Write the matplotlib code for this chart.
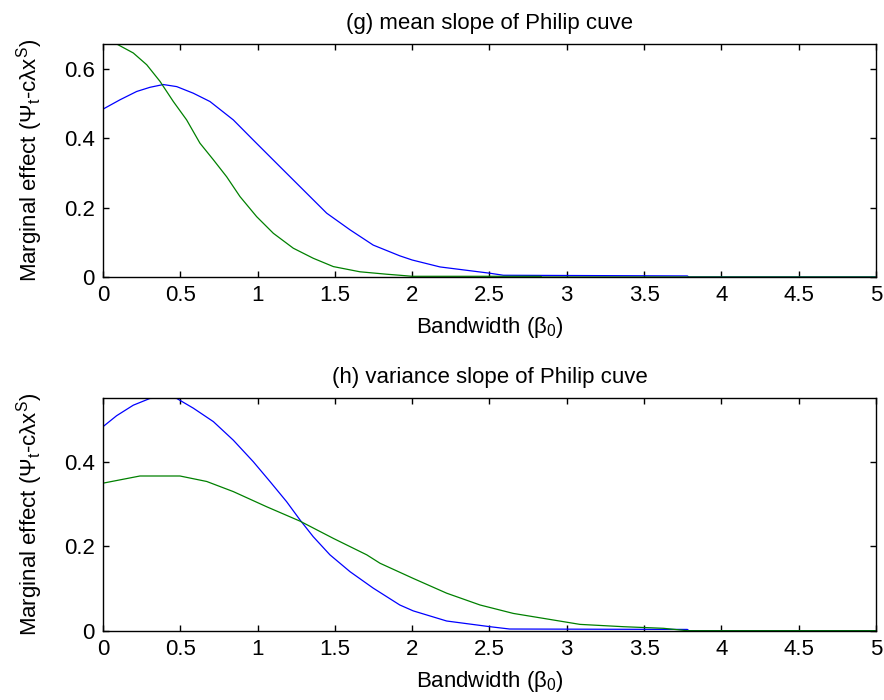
import matplotlib
matplotlib.use("Agg")
import matplotlib.pyplot as plt
from matplotlib.ticker import FormatStrFormatter

plt.rcParams['font.family'] = ['Liberation Sans', 'DejaVu Sans']
plt.rcParams['mathtext.fontset'] = 'custom'
plt.rcParams['mathtext.rm'] = 'Liberation Sans'
plt.rcParams['mathtext.it'] = 'Liberation Sans'

# (g) mean slope
g_blue_x = [0, 0.11, 0.218, 0.304, 0.39, 0.477, 0.584, 0.692, 0.843, 0.972, 1.145, 1.296,
            1.447, 1.598, 1.748, 1.92, 2.0, 2.18, 2.5, 2.59, 3.78, 3.79, 5.0]
g_blue_y = [0.484, 0.511, 0.535, 0.547, 0.555, 0.549, 0.530, 0.506, 0.453, 0.395, 0.318,
            0.251, 0.184, 0.136, 0.092, 0.061, 0.049, 0.029, 0.011, 0.005, 0.003, 0.0, 0.0]
g_green_x = [0, 0.088, 0.196, 0.283, 0.369, 0.455, 0.541, 0.627, 0.714, 0.80, 0.886,
             0.994, 1.102, 1.231, 1.36, 1.49, 1.662, 1.835, 1.92, 2.0, 2.83, 2.84, 5.0]
g_green_y = [0.672, 0.672, 0.646, 0.612, 0.564, 0.506, 0.453, 0.386, 0.338, 0.289, 0.232,
             0.174, 0.126, 0.083, 0.054, 0.030, 0.015, 0.008, 0.005, 0.002, 0.002, 0.0, 0.0]

# (h) variance slope
h_blue_x = [0, 0.088, 0.196, 0.304, 0.41, 0.477, 0.584, 0.714, 0.843, 0.972, 1.08, 1.188,
            1.274, 1.36, 1.468, 1.598, 1.748, 1.92, 2.007, 2.223, 2.503, 2.63, 3.78, 3.79, 5.0]
h_blue_y = [0.484, 0.51, 0.535, 0.551, 0.552, 0.551, 0.528, 0.496, 0.452, 0.401, 0.354,
            0.306, 0.263, 0.223, 0.180, 0.140, 0.101, 0.061, 0.047, 0.023, 0.0095, 0.004,
            0.003, 0.0, 0.0]
h_green_x = [0, 0.239, 0.498, 0.671, 0.843, 1.059, 1.274, 1.49, 1.706, 1.792, 2.007,
             2.223, 2.439, 2.654, 2.87, 3.085, 3.366, 3.625, 3.78, 5.0]
h_green_y = [0.35, 0.367, 0.367, 0.354, 0.330, 0.294, 0.260, 0.219, 0.180, 0.160, 0.124,
             0.089, 0.061, 0.041, 0.028, 0.015, 0.0095, 0.0057, 0.0, 0.0]

titles = ['(g) mean slope of Philip cuve', '(h) variance slope of Philip cuve']
ylabel = r'Marginal effect ($\mathregular{\Psi_t}$-c$\mathregular{\lambda}$x$^\mathregular{S}$)'
xlabel = r'Bandwidth ($\mathregular{\beta_0}$)'

fig = plt.figure(figsize=(8.84, 7.0), dpi=100)
ax1 = fig.add_axes([0.1165, 0.6043, 0.8744, 0.3329])
ax2 = fig.add_axes([0.1165, 0.0990, 0.8744, 0.3324])

panels = [
    (ax1, g_blue_x, g_blue_y, g_green_x, g_green_y, 0.672, [0, 0.2, 0.4, 0.6]),
    (ax2, h_blue_x, h_blue_y, h_green_x, h_green_y, 0.552, [0, 0.2, 0.4]),
]

fs = 16
for i, (ax, bx, by, gx, gy, ytop, yt) in enumerate(panels):
    ax.plot(bx, by, color='#0000ff', lw=0.9)
    ax.plot(gx, gy, color='#008000', lw=0.9)
    ax.set_xlim(0, 5)
    ax.set_ylim(0, ytop)
    ax.set_xticks([0, 0.5, 1, 1.5, 2, 2.5, 3, 3.5, 4, 4.5, 5])
    ax.set_yticks(yt)
    ax.xaxis.set_major_formatter(FormatStrFormatter('%g'))
    ax.yaxis.set_major_formatter(FormatStrFormatter('%g'))
    ax.tick_params(direction='in', top=True, right=True, length=4, width=1,
                   labelsize=fs, pad=6)
    for s in ax.spines.values():
        s.set_linewidth(1.0)
    ax.set_title(titles[i], fontsize=fs, pad=11)
    ax.set_xlabel(xlabel, fontsize=fs)
    ax.xaxis.set_label_coords(0.5, -0.165)
    ax.set_ylabel(ylabel, fontsize=fs)
    ax.yaxis.set_label_coords(-0.075, 0.5)

fig.savefig('out.png', dpi=100)
